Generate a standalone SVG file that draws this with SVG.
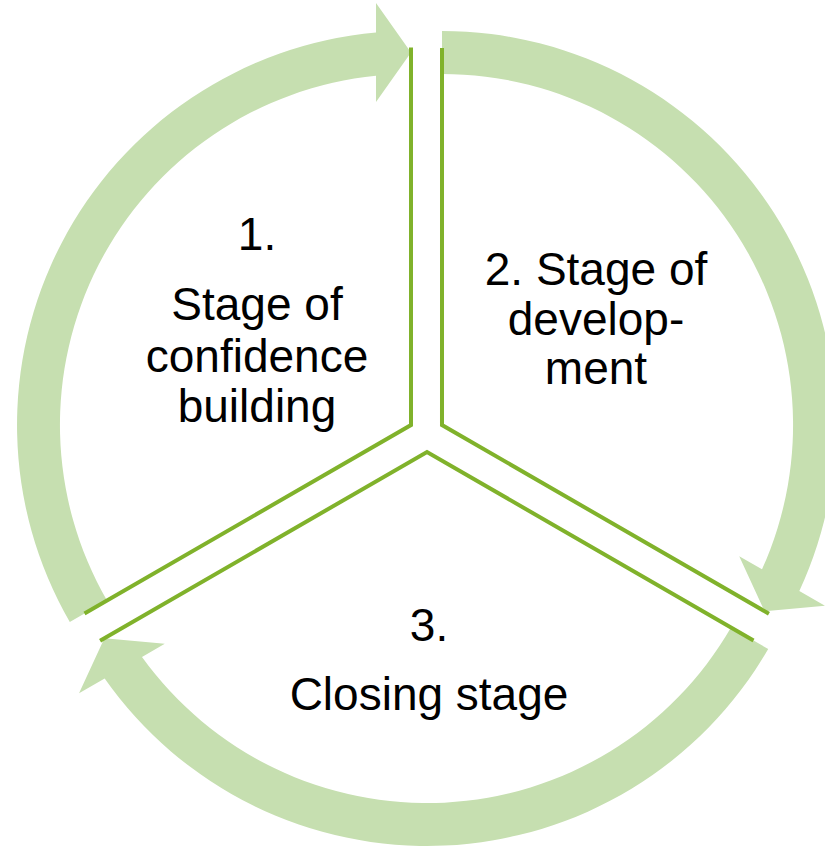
<svg xmlns="http://www.w3.org/2000/svg" xmlns:xlink="http://www.w3.org/1999/xlink" width="825" height="847" viewBox="0 0 825 847">
  <style>
    .band { fill: #C6DFB0; }
    .edge { fill: none; stroke: #80B22B; stroke-width: 4; stroke-linejoin: miter; }
    .label { font-family: "Liberation Sans", Arial, sans-serif; font-size: 46px; fill: #000000; text-anchor: middle; }
  </style>
  <defs>
    <!-- curved arrow band around a segment apex at (0,0): runs clockwise from the 150deg edge to the 270deg edge -->
    <path id="arc-arrow" d="M -341.2 197 A 394 394 0 0 1 -35 -392.4 L -35 -422 L 0 -372.5 L -35 -323 L -35 -349.3 A 351 351 0 0 0 -304 175.5 Z"/>
    <!-- the two straight edges of a segment -->
    <path id="seg-edge" d="M 0 -377.5 L 0 0 L -326.5 188.5"/>
  </defs>

  <rect x="0" y="0" width="825" height="847" fill="#FFFFFF"/>

  <g id="connectors">
    <use xlink:href="#arc-arrow" class="band" transform="translate(411,425)"/>
    <use xlink:href="#arc-arrow" class="band" transform="translate(442,425) rotate(120)"/>
    <use xlink:href="#arc-arrow" class="band" transform="translate(427,452) rotate(240)"/>
  </g>

  <g id="stage-1">
    <use xlink:href="#seg-edge" class="edge" transform="translate(411,425)"/>
    <text class="label" x="257" y="250">1.</text>
    <text class="label" x="257" y="320">Stage of</text>
    <text class="label" x="257" y="372">confidence</text>
    <text class="label" x="257" y="422">building</text>
  </g>

  <g id="stage-2">
    <use xlink:href="#seg-edge" class="edge" transform="translate(442,425) rotate(120)"/>
    <text class="label" x="596" y="285">2. Stage of</text>
    <text class="label" x="596" y="335">develop-</text>
    <text class="label" x="596" y="384">ment</text>
  </g>

  <g id="stage-3">
    <use xlink:href="#seg-edge" class="edge" transform="translate(427,452) rotate(240)"/>
    <text class="label" x="429" y="641">3.</text>
    <text class="label" x="429" y="710">Closing stage</text>
  </g>
</svg>
